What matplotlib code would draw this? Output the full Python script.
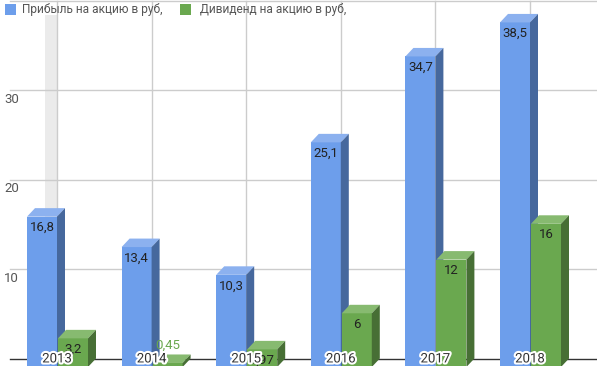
import matplotlib
matplotlib.use("Agg")
import matplotlib.pyplot as plt
import matplotlib.patheffects as pe
from matplotlib.patches import Polygon, Rectangle

plt.rcParams['font.family'] = ['Roboto', 'DejaVu Sans']

# data
years = ['2013', '2014', '2015', '2016', '2017', '2018']
profit = [16.8, 13.4, 10.3, 25.1, 34.7, 38.5]
dividend = [3.2, 0.45, 1.97, 6, 12, 16]
profit_labels = ['16,8', '13,4', '10,3', '25,1', '34,7', '38,5']
dividend_labels = ['3,2', '0,45', '1,97', '6', '12', '16']
series_names = ['Прибыль на акцию в руб,', 'Дивиденд на акцию в руб,']
y_ticks = [10, 20, 30]
top_line = 40

# styling
W, H = 597, 366
px_x = 94.6   # pixels per category
px_y = 8.95   # pixels per unit
y0_px = 358.5
bw = 30 / px_x
gap = 1 / px_x
dx = 8 / px_x
dy = 8.5 / px_y
blue = ('#6d9eeb', '#8cb1ef', '#46689d')
green = ('#6aa84f', '#87ba70', '#476f35')


def X(px):
    return (px - 57) / px_x


def Y(px):
    return (y0_px - px) / px_y


fig = plt.figure(figsize=(W / 100, H / 100), dpi=100)
ax = fig.add_axes([0, 0, 1, 1])
ax.set_xlim(X(0), X(W))
ax.set_ylim(Y(H), Y(0))
ax.axis('off')

# highlighted band
ax.add_patch(Rectangle((X(45), 0), 12 / px_x, Y(15), color='#ebebeb', lw=0, zorder=0))
for i in range(len(years)):
    ax.plot([i, i], [0, top_line], color='#cccccc', lw=1, zorder=1)
for t in y_ticks + [top_line]:
    ax.plot([X(10), X(W)], [t, t], color='#cccccc', lw=1, zorder=1)
for t in y_ticks:
    ax.text(X(4), t - 0.3, str(t), ha='left', va='top', fontsize=9.5, color='#555555')
ax.plot([X(10), X(W)], [0, 0], color='#333333', lw=1, zorder=1)


def bar3d(x0, v, cols, z):
    front, top, side = cols
    y0 = -dy
    y1 = v - dy
    x1 = x0 + bw
    ax.add_patch(Rectangle((x0, y0), bw, v, color=front, lw=0, zorder=z))
    ax.add_patch(Polygon([(x0, y1), (x1, y1), (x1 + dx, y1 + dy), (x0 + dx, y1 + dy)],
                         closed=True, color=top, lw=0, zorder=z))
    ax.add_patch(Polygon([(x1, y0), (x1, y1), (x1 + dx, y1 + dy), (x1 + dx, y0 + dy)],
                         closed=True, color=side, lw=0, zorder=z))


for i in range(len(years)):
    bar3d(i - bw, profit[i], blue, 3)
    bar3d(i + gap, dividend[i], green, 4)
    ax.text(i - bw / 2, profit[i] - dy - 11 / px_y, profit_labels[i], ha='center', va='center',
            fontsize=9.5, color='#222222', zorder=6)
    if dividend[i] > 1.5:
        ax.text(i + gap + bw / 2, dividend[i] - dy - 11 / px_y, dividend_labels[i], ha='center',
                va='center', fontsize=9.5, color='#222222', zorder=6)
    else:
        ax.text(i + gap + bw / 2, dividend[i] - dy + 18 / px_y, dividend_labels[i], ha='center',
                va='center', fontsize=9.5, color=green[0], zorder=6)
    ax.text(i, -0.05, years[i], ha='center', va='center', fontsize=9.5, color='#333333', zorder=7,
            path_effects=[pe.withStroke(linewidth=3, foreground='white')])

# legend
ax.add_patch(Rectangle((X(5), Y(15)), 11 / px_x, 11 / px_y, color=blue[0], lw=0, zorder=8))
ax.text(X(22), Y(9.5), series_names[0], ha='left', va='center', fontsize=8.6, color='#555555')
ax.add_patch(Rectangle((X(180), Y(15)), 11 / px_x, 11 / px_y, color=green[0], lw=0, zorder=8))
ax.text(X(200), Y(9.5), series_names[1], ha='left', va='center', fontsize=8.6, color='#555555')

fig.savefig('out.png', dpi=100)
